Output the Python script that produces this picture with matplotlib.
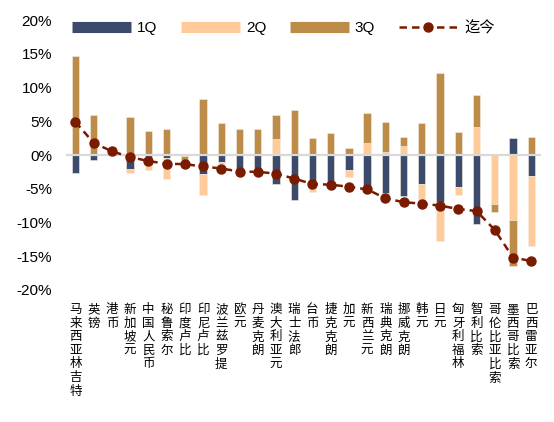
import numpy as np
import matplotlib
matplotlib.use("Agg")
import matplotlib.pyplot as plt
from matplotlib.lines import Line2D

plt.rcParams['font.family'] = ['Liberation Sans', 'Noto Sans CJK SC', 'DejaVu Sans']

# 各币种对美元涨跌幅(%)
currencies = ['马来西亚林吉特', '英镑', '港币', '新加坡元', '中国人民币', '秘鲁索尔',
              '印度卢比', '印尼卢比', '波兰兹罗提', '欧元', '丹麦克朗', '澳大利亚元',
              '瑞士法郎', '台币', '捷克克朗', '加元', '新西兰元', '瑞典克朗', '挪威克朗',
              '韩元', '日元', '匈牙利福林', '智利比索', '哥伦比亚比索', '墨西哥比索', '巴西雷亚尔']
q1 = [-2.7, -0.8, 0.0, -2.0, -1.5, -0.4, 0.0, -2.8, -1.1, -2.3, -2.4, -4.3, -6.7,
      -4.9, -4.3, -2.2, -4.7, -5.6, -6.1, -4.3, -6.9, -4.7, -10.2, 0.0, 2.5, -3.1]
q2 = [0.0, 0.0, 0.0, -0.6, -0.7, -3.1, -0.1, -3.2, -0.2, 0.0, 0.0, 2.3, 0.2,
      -0.6, 0.0, -1.0, 1.8, 0.5, 1.4, -2.3, -5.9, -1.2, 4.2, -7.3, -9.6, -10.4]
q3 = [14.7, 6.0, 0.0, 5.6, 3.6, 3.8, -0.6, 8.3, 4.7, 3.9, 3.9, 3.7, 6.4,
      2.5, 3.3, 1.1, 4.4, 4.4, 1.2, 4.7, 12.1, 3.4, 4.7, -1.2, -6.9, 2.7]
ytd = [4.9, 1.8, 0.55, -0.3, -0.9, -1.3, -1.35, -1.7, -2.0, -2.45, -2.5, -2.75, -3.5,
       -4.3, -4.4, -4.7, -5.1, -6.4, -7.0, -7.2, -7.5, -8.0, -8.3, -11.1, -15.2, -15.7]

series = [('1Q', q1, '#3C4A6B'), ('2Q', q2, '#FFCC99'), ('3Q', q3, '#BD8C48')]
line_color = '#7A1B00'

fig = plt.figure(figsize=(5.54, 4.22), dpi=100)
ax = fig.add_axes([0.119, 0.3128, 0.858, 0.6398])

x = np.arange(len(currencies))
pos_base = np.zeros(len(x))
neg_base = np.zeros(len(x))
for name, vals, color in series:
    v = np.array(vals)
    bottom = np.where(v >= 0, pos_base, neg_base)
    ax.bar(x, v, 0.4, bottom=bottom, color=color, edgecolor='#F2EDE6', linewidth=0.4, zorder=2)
    pos_base += np.where(v >= 0, v, 0)
    neg_base += np.where(v < 0, v, 0)

ax.axhline(0, color='#D9D9D9', lw=1.6, zorder=3)
ax.plot(x, ytd, color=line_color, ls=(0, (3, 2)), lw=1.8, marker='o', ms=6.5, zorder=4)

ax.set_xlim(-0.52, 25.55)
ax.set_ylim(-20, 20)
ax.set_yticks(np.arange(-20, 21, 5))
ax.set_yticklabels([f'{v}%' for v in range(-20, 21, 5)], fontsize=11)
ax.set_xticks(x)
ax.set_xticklabels(['\n'.join(c) for c in currencies], fontsize=9,
                   va='top', ha='center', linespacing=1.18)
ax.tick_params(length=0, axis='y', pad=10)
ax.tick_params(length=0, axis='x', pad=10)
for s in ax.spines.values():
    s.set_visible(False)

handles = [Line2D([0], [0], color=c, lw=8, solid_capstyle='butt') for _, _, c in series]
handles.append(Line2D([0], [0], color=line_color, ls=(0, (3, 2)), lw=1.8, marker='o', ms=6.5))
ax.legend(handles, ['1Q', '2Q', '3Q', '迄今'], ncol=4, frameon=False, fontsize=11,
          handlelength=3.85, handletextpad=0.4, columnspacing=1.55,
          loc='center left', bbox_to_anchor=(0.0, 0.97), borderaxespad=0)

fig.savefig('out.png', dpi=100)
